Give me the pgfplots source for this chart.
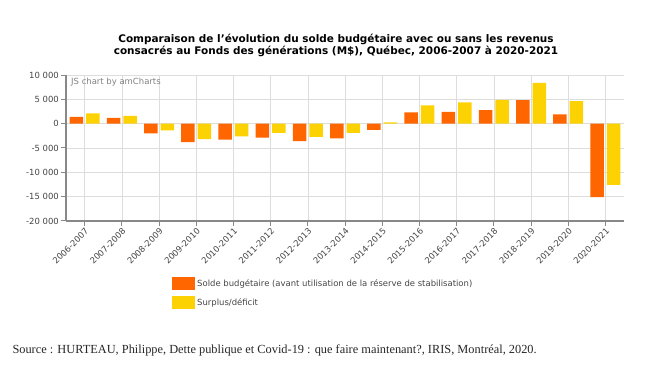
\documentclass[border=0pt]{standalone}
\usepackage{pgfplots}
\pgfplotsset{compat=1.18}
\usepackage{fontspec}
\setmainfont{DejaVu Sans}
\newfontfamily\srcfont{Liberation Serif}
\definecolor{amorange}{HTML}{FF6600}
\definecolor{amyellow}{HTML}{FCD202}
\definecolor{axgray}{HTML}{888888}
\definecolor{gridgray}{HTML}{DDDDDD}
\definecolor{txtgray}{HTML}{444444}
\begin{document}
\begin{tikzpicture}
\path[use as bounding box] (0bp,0bp) rectangle (672bp,368bp);
\node[align=center, font=\bfseries\fontsize{10.5}{11.5}\selectfont, text=black] at (336bp,322.5bp)
  {Comparaison de l’évolution du solde budgétaire avec ou sans les revenus\\consacrés au Fonds des générations (M\$), Québec, 2006-2007 à 2020-2021};
\begin{axis}[
  at={(66bp,147bp)}, anchor=south west,
  scale only axis, width=558bp, height=146bp,
  xmin=-0.5, xmax=14.5, ymin=-20000, ymax=10000,
  scaled y ticks=false,
  axis lines*=left,
  axis line style={draw=axgray, line width=1.3bp},
  xmajorgrids, ymajorgrids,
  major grid style={draw=gridgray, line width=0.6bp},
  tick align=outside, major tick length=5bp,
  tick style={draw=axgray, line width=1bp},
  ytick={-20000,-15000,-10000,-5000,0,5000,10000},
  yticklabels={-20 000,-15 000,-10 000,-5 000,0,5 000,10 000},
  xtick={0,...,14},
  xticklabels={2006-2007,2007-2008,2008-2009,2009-2010,2010-2011,2011-2012,2012-2013,2013-2014,2014-2015,2015-2016,2016-2017,2017-2018,2018-2019,2019-2020,2020-2021},
  ticklabel style={font=\fontsize{8.5}{10}\selectfont, text=txtgray},
  xticklabel style={rotate=45, anchor=north east, inner sep=1bp},
  yticklabel style={inner sep=2bp},
  ybar=3bp, bar width=13.5bp,
  legend style={at={(axis description cs:0.19,-0.385)}, anchor=north west, draw=none, fill=none,
    font=\fontsize{8.5}{10}\selectfont, text=txtgray, row sep=6bp, inner sep=0pt},
  legend cell align=left,
  clip=false,
]
\addplot[fill=amorange, draw=none, legend image code/.code={\fill[amorange] (0bp,-6.5bp) rectangle (23bp,6.5bp);}]
 coordinates {(0,1400) (1,1200) (2,-2000) (3,-3800) (4,-3300) (5,-2850) (6,-3600) (7,-3000) (8,-1250) (9,2300) (10,2400) (11,2800) (12,4850) (13,1900) (14,-15100)};
\addplot[fill=amyellow, draw=none, legend image code/.code={\fill[amyellow] (0bp,-6.5bp) rectangle (23bp,6.5bp);}]
 coordinates {(0,2100) (1,1600) (2,-1400) (3,-3200) (4,-2600) (5,-1900) (6,-2700) (7,-1900) (8,250) (9,3750) (10,4400) (11,4900) (12,8400) (13,4650) (14,-12600)};
\legend{Solde budgétaire (avant utilisation de la réserve de stabilisation),Surplus/déficit}
\node[anchor=west, font=\fontsize{8.5}{10}\selectfont, text=gray] at (axis description cs:0.003,0.95) {JS chart by amCharts};
\end{axis}
\node[anchor=west, font=\srcfont\fontsize{12.4}{14}\selectfont, text=black!85] at (9bp,18bp)
  {Source : HURTEAU, Philippe, Dette publique et Covid-19 : que faire maintenant?, IRIS, Montréal, 2020.};
\end{tikzpicture}
\end{document}
